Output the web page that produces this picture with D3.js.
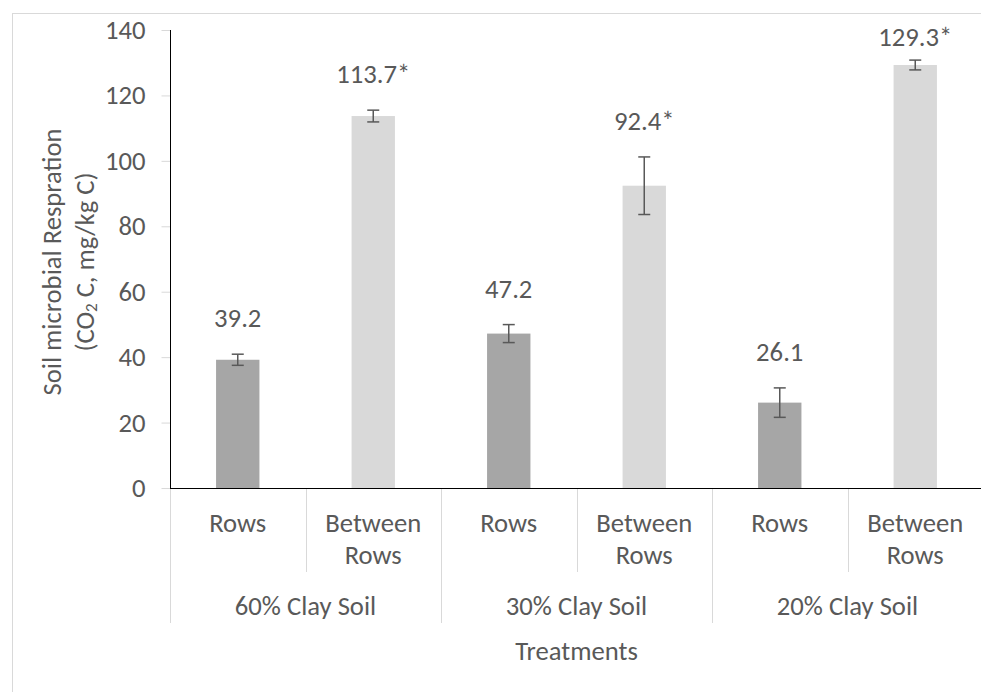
<!DOCTYPE html>
<html>
<head>
<meta charset="utf-8">
<script src="https://cdn.jsdelivr.net/npm/d3@7"></script>
<style>
  html, body { margin: 0; padding: 0; background: #fff; }
  svg text { font-family: Carlito, Calibri, "Open Sans", sans-serif; fill: #595959; }
</style>
</head>
<body>
<svg id="chart" width="981" height="692"></svg>
<script>
// Soil microbial respiration by position and clay content
const groups = ["60% Clay Soil", "30% Clay Soil", "20% Clay Soil"];
const positions = ["Rows", "Between Rows"];
const values = [39.2, 113.7, 47.2, 92.4, 26.1, 129.3];
const errors = [1.7, 1.8, 2.75, 8.8, 4.5, 1.5];
const labels = ["39.2", "113.7*", "47.2", "92.4*", "26.1", "129.3*"];
const yTicks = [0, 20, 40, 60, 80, 100, 120, 140];

const FS = "26.67px";
const svg = d3.select("#chart");
const plotLeft = 170, plotRight = 983, plotTop = 30, plotBottom = 488;

// outer frame
svg.append("rect")
  .attr("x", 12.5).attr("y", 13.5)
  .attr("width", 1000).attr("height", 1000)
  .attr("fill", "none").attr("stroke", "#d9d9d9").attr("stroke-width", 1);

const cats = d3.range(values.length);
const x = d3.scaleBand().domain(cats).range([plotLeft, plotRight]).paddingInner(0).paddingOuter(0);
const y = d3.scaleLinear().domain([0, 140]).range([plotBottom, plotTop]);
const barW = x.bandwidth() * 0.32;

// y axis
const yAxis = svg.append("g").attr("transform", `translate(${plotLeft + 0.5},0)`)
  .call(d3.axisLeft(y).tickValues(yTicks).tickSize(9).tickPadding(16));
yAxis.select(".domain").remove();
yAxis.selectAll(".tick line").attr("stroke", "#d9d9d9");
yAxis.selectAll(".tick text").style("font-size", FS).attr("fill", "#595959")
  .attr("font-family", "Carlito, Calibri, 'Open Sans', sans-serif");
svg.append("line").attr("x1", plotLeft + 0.5).attr("x2", plotLeft + 0.5)
  .attr("y1", plotTop).attr("y2", plotBottom).attr("stroke", "#000").attr("stroke-width", 1);

// bars
svg.append("g").selectAll("rect").data(cats).join("rect")
  .attr("x", i => x(i) + x.bandwidth() / 2 - barW / 2)
  .attr("y", i => y(values[i]))
  .attr("width", barW)
  .attr("height", i => y(0) - y(values[i]))
  .attr("fill", i => i % 2 === 0 ? "#a6a6a6" : "#d9d9d9");

// error bars
const eb = svg.append("g").attr("stroke", "#595959").attr("stroke-width", 1.5);
cats.forEach(i => {
  const cx = x(i) + x.bandwidth() / 2;
  const y1 = y(values[i] + errors[i]), y2 = y(values[i] - errors[i]);
  eb.append("line").attr("x1", cx).attr("x2", cx).attr("y1", y1).attr("y2", y2);
  eb.append("line").attr("x1", cx - 6).attr("x2", cx + 6).attr("y1", y1).attr("y2", y1);
  eb.append("line").attr("x1", cx - 6).attr("x2", cx + 6).attr("y1", y2).attr("y2", y2);
});

// value labels
svg.append("g").selectAll("text").data(cats).join("text")
  .attr("x", i => x(i) + x.bandwidth() / 2)
  .attr("y", i => Math.max(y(values[i] + errors[i]) - 36, 37))
  .attr("text-anchor", "middle").attr("dominant-baseline", "central")
  .style("font-size", FS)
  .text(i => labels[i]);

// x axis line
svg.append("line").attr("x1", plotLeft).attr("x2", plotRight)
  .attr("y1", plotBottom + 0.5).attr("y2", plotBottom + 0.5).attr("stroke", "#000").attr("stroke-width", 1);

// category separators
const sep = svg.append("g").attr("stroke", "#d9d9d9").attr("stroke-width", 1);
d3.range(values.length + 1).forEach(k => {
  const xx = Math.round(plotLeft + k * x.step()) + 0.5;
  const long = k % 2 === 0;
  sep.append("line").attr("x1", xx).attr("x2", xx)
    .attr("y1", plotBottom + 1).attr("y2", long ? 623 : 572);
});

// position labels
cats.forEach(i => {
  const cx = x(i) + x.bandwidth() / 2;
  const words = positions[i % 2].split(" ");
  words.forEach((w, j) => {
    svg.append("text").attr("x", cx).attr("y", 523 + j * 32)
      .attr("text-anchor", "middle").attr("dominant-baseline", "central")
      .style("font-size", FS).text(w);
  });
});

// group labels
groups.forEach((g, k) => {
  const cx = plotLeft + (k * 2 + 1) * x.step();
  svg.append("text").attr("x", cx).attr("y", 606)
    .attr("text-anchor", "middle").attr("dominant-baseline", "central")
    .style("font-size", FS).text(g);
});

// axis titles
svg.append("text").attr("x", (plotLeft + plotRight) / 2).attr("y", 651)
  .attr("text-anchor", "middle").attr("dominant-baseline", "central")
  .style("font-size", FS).text("Treatments");

const yt = svg.append("g").attr("transform", "translate(52,262) rotate(-90)");
yt.append("text").attr("x", 0).attr("y", 0)
  .attr("text-anchor", "middle").attr("dominant-baseline", "central")
  .style("font-size", FS).text("Soil microbial Respration");
const t2 = yt.append("text").attr("x", 0).attr("y", 33)
  .attr("text-anchor", "middle").attr("dominant-baseline", "central")
  .style("font-size", FS);
t2.append("tspan").text("(CO");
t2.append("tspan").attr("dy", 6).style("font-size", "17px").text("2");
t2.append("tspan").attr("dy", -6).text(" C, mg/kg C)");
</script>
</body>
</html>
